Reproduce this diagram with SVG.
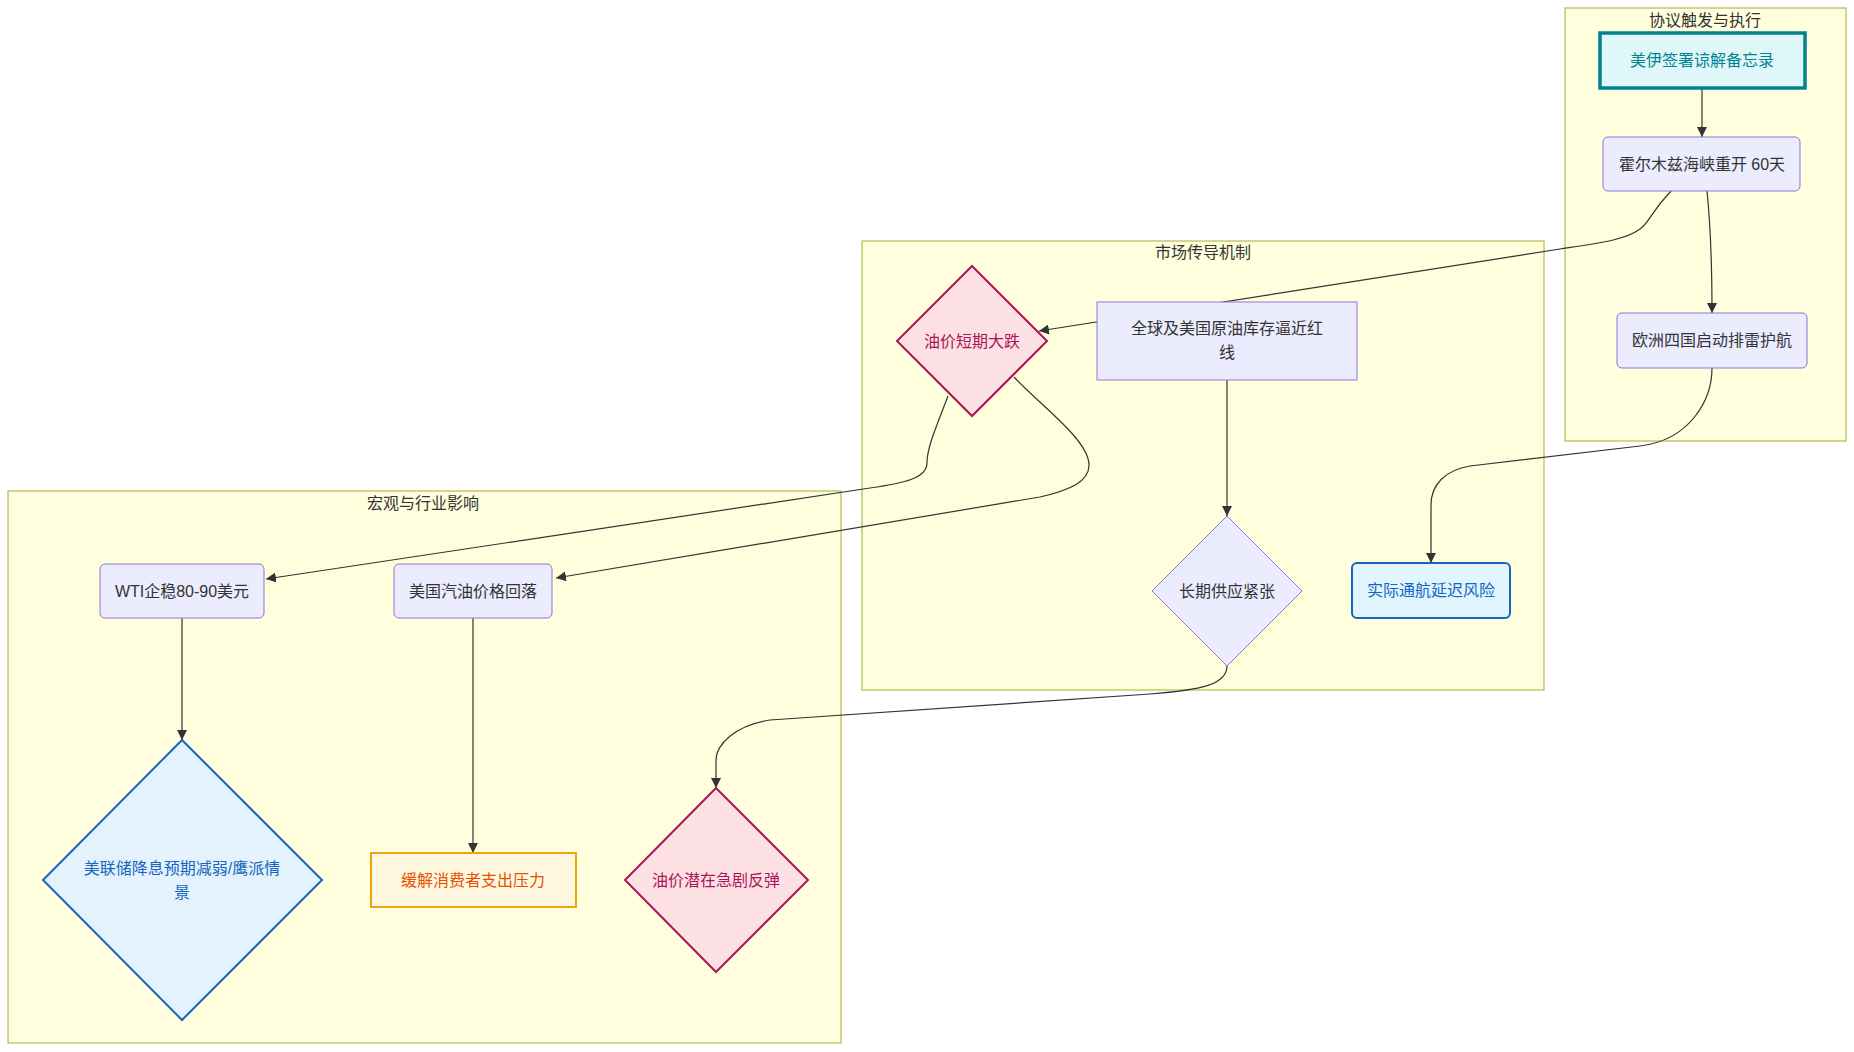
<svg xmlns="http://www.w3.org/2000/svg" width="1854" height="1052" viewBox="0 0 1854 1052">
<style>
text{font-family:"Liberation Sans","Noto Sans CJK SC",sans-serif;font-size:16px;text-anchor:middle;dominant-baseline:central;fill:#333}
.cluster{fill:#ffffde;stroke:#aaaa33;stroke-width:1}
.def{fill:#ECECFF;stroke:#9370DB;stroke-width:1}
.edge{fill:none;stroke:#333;stroke-width:1.2}
.teal{fill:#e0f7fa;stroke:#00838f;stroke-width:3.5}
.tealt{fill:#00838f}
.red{fill:#fce0e4;stroke:#ad1457;stroke-width:2}
.redt{fill:#ad1457}
.blue{fill:#e3f2fd;stroke:#1565c0;stroke-width:2}
.bluet{fill:#1565c0}
.orange{fill:#fff8e1;stroke:#f0a30a;stroke-width:2}
.oranget{fill:#e65100}
</style>
<defs>
<marker id="arr" viewBox="0 0 10 10" refX="10" refY="5" markerWidth="10" markerHeight="10" markerUnits="userSpaceOnUse" orient="auto">
<path d="M0,0 L10,5 L0,10 z" fill="#333"/>
</marker>
</defs>
<g id="clusters">
<g id="cluster-trigger"><rect class="cluster" x="1565" y="8" width="281" height="433"/><text x="1705" y="20">协议触发与执行</text></g>
<g id="cluster-market"><rect class="cluster" x="862" y="241" width="682" height="449"/><text x="1203" y="252">市场传导机制</text></g>
<g id="cluster-macro"><rect class="cluster" x="8" y="491" width="833" height="552"/><text x="423" y="503">宏观与行业影响</text></g>
</g>
<g id="edges">
<path class="edge" d="M1702,88 L1702,137" marker-end="url(#arr)"/>
<path class="edge" d="M1707,191 C1711,230 1712,260 1712,313" marker-end="url(#arr)"/>
<path class="edge" d="M1671,191 C1650,213 1650,222 1640,229 C1625,240 1600,243 1560,249 L1039,331" marker-end="url(#arr)"/>
<path class="edge" d="M948,396 C935,430 927,448 927,463 C927,478 905,483 870,488 L266,579" marker-end="url(#arr)"/>
<path class="edge" d="M1014,377 C1040,405 1089,440 1089,465 C1089,482 1070,490 1040,497 L556,578" marker-end="url(#arr)"/>
<path class="edge" d="M1227,380 L1227,516" marker-end="url(#arr)"/>
<path class="edge" d="M1712,368 C1712,400 1690,440 1640,446 L1470,466 C1445,470 1431,485 1431,505 L1431,563" marker-end="url(#arr)"/>
<path class="edge" d="M1227,666 C1227,685 1200,690 1150,694 L770,720 C735,725 716,745 716,760 L716,788" marker-end="url(#arr)"/>
<path class="edge" d="M182,618 L182,740" marker-end="url(#arr)"/>
<path class="edge" d="M473,618 L473,853" marker-end="url(#arr)"/>
</g>
<g id="nodes">
<g id="A"><rect class="teal" x="1600" y="33" width="205" height="55"/><text class="tealt" x="1702" y="60.5">美伊签署谅解备忘录</text></g>
<g id="B"><rect class="def" x="1603" y="137" width="197" height="54" rx="5"/><text x="1702" y="164">霍尔木兹海峡重开 60天</text></g>
<g id="C"><rect class="def" x="1617" y="313" width="190" height="55" rx="5"/><text x="1712" y="340.5">欧洲四国启动排雷护航</text></g>
<g id="D"><polygon class="red" points="972,266 1047,341 972,416 897,341"/><text class="redt" x="972" y="341">油价短期大跌</text></g>
<g id="E"><rect class="def" x="1097" y="302" width="260" height="78"/><text x="1227" y="328">全球及美国原油库存逼近红</text><text x="1227" y="352">线</text></g>
<g id="F"><polygon class="def" points="1227,516 1302,591 1227,666 1152,591"/><text x="1227" y="591">长期供应紧张</text></g>
<g id="G"><rect class="blue" x="1352" y="563" width="158" height="55" rx="5" style="fill:#e1f5fe"/><text class="bluet" x="1431" y="590.5">实际通航延迟风险</text></g>
<g id="H"><rect class="def" x="100" y="564" width="164" height="54" rx="5"/><text x="182" y="591">WTI企稳80-90美元</text></g>
<g id="I"><rect class="def" x="394" y="564" width="158" height="54" rx="5"/><text x="473" y="591">美国汽油价格回落</text></g>
<g id="J"><polygon class="blue" points="182,740 322,880 182,1020 43,880"/><text class="bluet" x="182" y="868">美联储降息预期减弱/鹰派情</text><text class="bluet" x="182" y="892">景</text></g>
<g id="K"><rect class="orange" x="371" y="853" width="205" height="54"/><text class="oranget" x="473" y="880">缓解消费者支出压力</text></g>
<g id="L"><polygon class="red" points="716,788 808,880 716,972 625,880"/><text class="redt" x="716" y="880">油价潜在急剧反弹</text></g>
</g>
</svg>
